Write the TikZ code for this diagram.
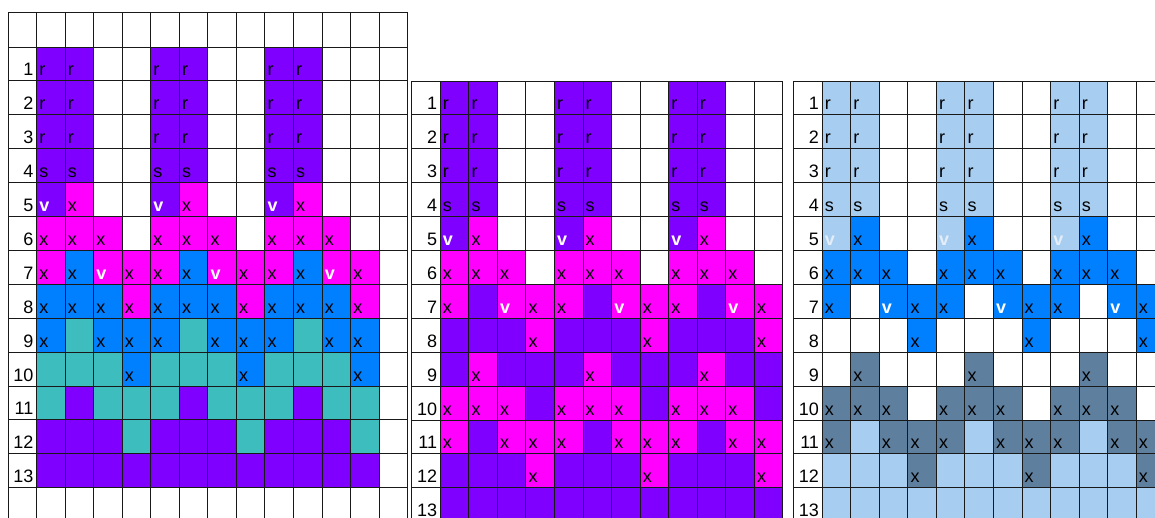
\documentclass[tikz,border=0pt]{standalone}
\usepackage{fontspec}
\setmainfont{Liberation Sans}
\definecolor{cellP}{HTML}{8000FF}
\definecolor{cellM}{HTML}{FF00FF}
\definecolor{cellB}{HTML}{0080FF}
\definecolor{cellT}{HTML}{3DBDBD}
\definecolor{cellL}{HTML}{A7CDF0}
\definecolor{cellS}{HTML}{5F7F9F}
\definecolor{cellW}{HTML}{FFFFFF}
\definecolor{vpale}{HTML}{E4EDF8}

% cell texts
\newcommand\txtr{r}
\newcommand\txts{s}
\newcommand\txtx{x}
\newcommand\txtv{\textbf{\color{white}v}}
\newcommand\txtu{\textbf{\color{vpale}v}}
\newcommand\txtn{}

\tikzset{
  celltext/.style={anchor=base west, inner sep=0pt, font=\fontsize{18}{20}\selectfont},
  rowlabel/.style={anchor=base east, inner sep=0pt, font=\fontsize{18}{20}\selectfont},
  gridline/.style={line width=1pt, black!90}
}

% #1 name, #2 left of label column, #3 top of row 1, #4 rows (4-cell pattern, repeated 3 times)
\newcommand\gridpanel[4]{%
  \foreach \pattern [count=\rw] in {#4} {
    \foreach \blk in {0,1,2} {
      \foreach \c/\t [count=\k] in \pattern {
        \pgfmathtruncatemacro\col{4*\blk+\k}
        \fill[cell\c] (#2+28.55*\col, #3+33.9*\rw-33.9) rectangle ++(28.55,33.9);
        \node[celltext] (#1-\rw-\col) at (#2+28.55*\col+2.5, #3+33.9*\rw-5) {\csname txt\t\endcsname};
      }
    }
    \node[rowlabel] (#1-lbl-\rw) at (#2+28.55-3, #3+33.9*\rw-5) {\rw};
  }
}

\begin{document}
\begin{tikzpicture}[x=1pt, y=-1pt]
  \useasboundingbox (0,0) rectangle (1155,517);
  \clip (0,0) rectangle (1155,517);

  % Left panel
  \gridpanel{left}{8}{47}{
    {P/r,P/r,W/n,W/n},{P/r,P/r,W/n,W/n},{P/r,P/r,W/n,W/n},{P/s,P/s,W/n,W/n},
    {P/v,M/x,W/n,W/n},{M/x,M/x,M/x,W/n},{M/x,B/x,M/v,M/x},{B/x,B/x,B/x,M/x},
    {B/x,T/n,B/x,B/x},{T/n,T/n,T/n,B/x},{T/n,P/n,T/n,T/n},{P/n,P/n,P/n,T/n},
    {P/n,P/n,P/n,P/n}}

  % Middle panel
  \gridpanel{mid}{411.7}{81}{
    {P/r,P/r,W/n,W/n},{P/r,P/r,W/n,W/n},{P/r,P/r,W/n,W/n},{P/s,P/s,W/n,W/n},
    {P/v,M/x,W/n,W/n},{M/x,M/x,M/x,W/n},{M/x,P/n,M/v,M/x},{P/n,P/n,P/n,M/x},
    {P/n,M/x,P/n,P/n},{M/x,M/x,M/x,P/n},{M/x,P/n,M/x,M/x},{P/n,P/n,P/n,M/x},
    {P/n,P/n,P/n,P/n}}

  % Right panel
  \gridpanel{right}{793.6}{81}{
    {L/r,L/r,W/n,W/n},{L/r,L/r,W/n,W/n},{L/r,L/r,W/n,W/n},{L/s,L/s,W/n,W/n},
    {L/u,B/x,W/n,W/n},{B/x,B/x,B/x,W/n},{B/x,W/n,B/v,B/x},{W/n,W/n,W/n,B/x},
    {W/n,S/x,W/n,W/n},{S/x,S/x,S/x,W/n},{S/x,L/n,S/x,S/x},{L/n,L/n,L/n,S/x},
    {L/n,L/n,L/n,L/n}}

  % Grid lines
  \foreach \i in {0,...,14}
    \draw[gridline] (8+28.55*\i,12.5) -- (8+28.55*\i,521.6);
  \draw[gridline] (8,12.5) -- (407.7,12.5);
  \foreach \j in {0,...,14}
    \draw[gridline] (8,47+33.9*\j) -- (407.7,47+33.9*\j);

  \foreach \xo in {411.7,793.6} {
    \foreach \i in {0,...,13}
      \draw[gridline] (\xo+28.55*\i,81) -- (\xo+28.55*\i,521.7);
    \foreach \j in {0,...,13}
      \draw[gridline] (\xo,81+33.9*\j) -- (\xo+371.15,81+33.9*\j);
  }
\end{tikzpicture}
\end{document}
